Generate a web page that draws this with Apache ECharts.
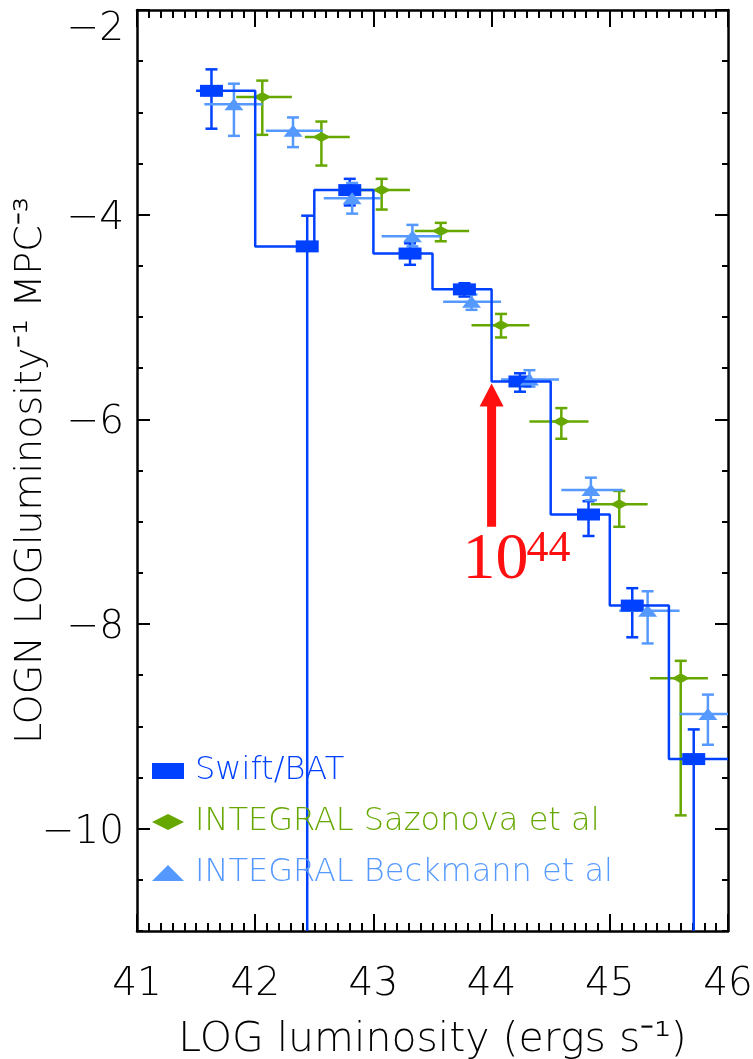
<!DOCTYPE html>
<html>
<head>
<meta charset="utf-8">
<script src="https://cdn.jsdelivr.net/npm/echarts@6/dist/echarts.min.js"></script>
<style>
  html, body { margin: 0; padding: 0; background: #ffffff; }
  #chart { width: 753px; height: 1059px; }
</style>
</head>
<body>
<div id="chart"></div>
<script>
// ---- Luminosity function data (log L in erg/s, log N per log L per Mpc^3) ----

// Bin edges of the Swift/BAT histogram
const binEdges = [41.5, 42.0, 42.5, 43.0, 43.5, 44.0, 44.5, 45.0, 45.5, 46.0];

// Swift/BAT
const swiftX     = [41.63, 42.44, 42.80, 43.31, 43.77, 44.24, 44.82, 45.19, 45.71];
const swiftY     = [-2.79, -4.31, -3.76, -4.38, -4.73, -5.63, -6.93, -7.82, -9.32];
const swiftYHigh = [-2.58, -4.01, -3.65, -4.28, -4.67, -5.55, -6.80, -7.65, -9.03];
const swiftYLow  = [-3.16, -12.0, -3.91, -4.49, -4.80, -5.73, -7.14, -8.13, -12.0];

// INTEGRAL, Sazonova et al
const sazX     = [42.06, 42.56, 43.07, 43.57, 44.08, 44.59, 45.08, 45.60];
const sazXLow  = [41.84, 42.42, 42.83, 43.35, 43.83, 44.32, 44.84, 45.34];
const sazXHigh = [42.31, 42.80, 43.31, 43.81, 44.32, 44.82, 45.32, 45.83];
const sazY     = [-2.85, -3.24, -3.76, -4.16, -5.08, -6.02, -6.83, -8.53];
const sazYHigh = [-2.69, -3.09, -3.65, -4.08, -4.97, -5.89, -6.70, -8.36];
const sazYLow  = [-3.22, -3.52, -3.95, -4.26, -5.20, -6.19, -7.05, -9.87];

// INTEGRAL, Beckmann et al
const beckX     = [41.82, 42.32, 42.82, 43.33, 43.83, 44.32, 44.84, 45.32, 45.83];
const beckXLow  = [41.57, 42.09, 42.58, 43.07, 43.59, 44.08, 44.59, 45.08, 45.59];
const beckXHigh = [42.06, 42.57, 43.06, 43.57, 44.08, 44.57, 45.11, 45.59, 46.08];
const beckY     = [-2.92, -3.18, -3.84, -4.21, -4.85, -5.61, -6.69, -7.87, -8.88];
const beckYHigh = [-2.72, -3.05, -3.69, -4.10, -4.78, -5.52, -6.57, -7.68, -8.69];
const beckYLow  = [-3.23, -3.34, -3.99, -4.31, -4.93, -5.68, -6.79, -8.19, -9.18];

// Axis ranges and labelled ticks
const xRange = [41, 46];
const yRange = [-11, -2];
const yLabelValues = [-10, -8, -6, -4, -2];

// Arrow marking L = 10^44 erg/s
const arrowX = 44.0;
const arrowTipY = -5.65;
const arrowBaseY = -7.05;
const arrowText = '10';
const arrowExp = '44';

// Series names
const NAME_SWIFT = 'Swift/BAT';
const NAME_SAZ = 'INTEGRAL Sazonova et al';
const NAME_BECK = 'INTEGRAL Beckmann et al';

// ---- Styling ----
const FONT = 'DejaVu Sans';
const C_SWIFT = '#0040ff';
const C_SAZ = '#66a800';
const C_BECK = '#5599ff';
const C_RED = '#ff1010';

const chart = echarts.init(document.getElementById('chart'), null, { renderer: 'canvas' });

function errorBars(color, capHalf, withX) {
  return function (params, api) {
    const x = api.value(0), y = api.value(1);
    const top = api.coord([x, api.value(3)]);
    const bot = api.coord([x, api.value(2)]);
    const style = { stroke: color, lineWidth: 2.5, fill: null };
    const children = [
      { type: 'line', shape: { x1: top[0], y1: top[1], x2: bot[0], y2: bot[1] }, style: style },
      { type: 'line', shape: { x1: top[0] - capHalf, y1: top[1], x2: top[0] + capHalf, y2: top[1] }, style: style },
      { type: 'line', shape: { x1: bot[0] - capHalf, y1: bot[1], x2: bot[0] + capHalf, y2: bot[1] }, style: style }
    ];
    if (withX) {
      const l = api.coord([api.value(4), y]);
      const r = api.coord([api.value(5), y]);
      children.push({ type: 'line', shape: { x1: l[0], y1: l[1], x2: r[0], y2: r[1] }, style: style });
    }
    return { type: 'group', children: children };
  };
}

const stepData = binEdges.map((e, i) => [e, swiftY[Math.min(i, swiftY.length - 1)]]);
const swiftErr = swiftX.map((x, i) => [x, swiftY[i], swiftYLow[i], swiftYHigh[i]]);
const sazErr = sazX.map((x, i) => [x, sazY[i], sazYLow[i], sazYHigh[i], sazXLow[i], sazXHigh[i]]);
const beckErr = beckX.map((x, i) => [x, beckY[i], beckYLow[i], beckYHigh[i], beckXLow[i], beckXHigh[i]]);

const axisLineStyle = { color: '#000', width: 2.5 };
const tickLineStyle = { color: '#000', width: 2 };
const labelFont = { fontFamily: FONT, fontSize: 39, color: '#000', fontWeight: 200 };

function xAxisDef(pos, showLabels) {
  return {
    type: 'value', position: pos, min: xRange[0], max: xRange[1], interval: 1,
    axisLine: { show: true, onZero: false, lineStyle: axisLineStyle },
    axisTick: { show: true, inside: true, length: 17, lineStyle: tickLineStyle },
    minorTick: { show: true, splitNumber: 10, length: 8, lineStyle: tickLineStyle },
    splitLine: { show: false }, minorSplitLine: { show: false },
    axisLabel: Object.assign({ show: showLabels, margin: 34 }, labelFont),
    name: showLabels ? 'LOG luminosity (ergs s\u207B\u00B9)' : '',
    nameLocation: 'middle', nameGap: 89, nameMoveOverlap: false,
    nameTextStyle: { fontFamily: FONT, fontSize: 41, color: '#000', fontWeight: 200 }
  };
}

function yAxisMinor(pos, showLabels) {
  return {
    type: 'value', position: pos, min: yRange[0], max: yRange[1], interval: 0.5,
    axisLine: { show: true, onZero: false, lineStyle: axisLineStyle },
    axisTick: { show: true, inside: true, length: 6, lineStyle: tickLineStyle },
    splitLine: { show: false },
    axisLabel: {
      show: showLabels, margin: 13, customValues: yLabelValues,
      formatter: function (v) {
        const t = '\u2212' + Math.abs(v);
        return v === yRange[1] ? '{t|' + t + '}' : '{n|' + t + '}';
      },
      rich: {
        t: Object.assign({ padding: [40, 0, 0, 0] }, labelFont),
        n: Object.assign({ padding: [8, 0, 0, 0] }, labelFont)
      }
    },
    name: showLabels ? 'LOGN LOGluminosity\u207B\u00B9 MPC\u207B\u00B3' : '',
    nameLocation: 'middle', nameGap: 87, nameRotate: 90, nameMoveOverlap: false,
    nameTextStyle: { fontFamily: FONT, fontSize: 38, color: '#000', fontWeight: 200 }
  };
}

function yAxisMajor(pos) {
  return {
    type: 'value', position: pos, min: yRange[0], max: yRange[1], interval: 0.5,
    axisLine: { show: false },
    axisTick: { show: true, inside: true, length: 13, lineStyle: tickLineStyle, customValues: yLabelValues },
    splitLine: { show: false },
    axisLabel: { show: false }
  };
}

const option = {
  animation: false,
  backgroundColor: '#ffffff',
  grid: { left: 137, top: 10, width: 591, height: 921, show: false, containLabel: false, outerBoundsMode: 'none' },
  xAxis: [xAxisDef('bottom', true), xAxisDef('top', false)],
  yAxis: [yAxisMinor('left', true), yAxisMajor('left'), yAxisMinor('right', false), yAxisMajor('right')],
  legend: {
    orient: 'vertical', left: 152, top: 753, padding: 0,
    itemWidth: 32, itemHeight: 16, itemGap: 15,
    selectedMode: false,
    textStyle: { fontFamily: FONT, fontSize: 32, lineHeight: 36, fontWeight: 200, padding: [0, 0, 0, 6] },
    data: [
      { name: NAME_SWIFT, icon: 'rect', textStyle: { color: C_SWIFT } },
      { name: NAME_SAZ, icon: 'diamond', textStyle: { color: C_SAZ } },
      { name: NAME_BECK, icon: 'triangle', textStyle: { color: C_BECK } }
    ]
  },
  series: [
    {
      name: 'step', type: 'line', step: 'end', data: stepData,
      symbol: 'none', clip: true,
      lineStyle: { color: C_SWIFT, width: 2.5 }
    },
    {
      type: 'custom', name: 'swiftErr', data: swiftErr, clip: true,
      encode: { x: 0, y: 1 }, renderItem: errorBars(C_SWIFT, 6, false)
    },
    {
      name: NAME_SWIFT, type: 'scatter', symbol: 'rect', symbolSize: [23, 12],
      itemStyle: { color: C_SWIFT, opacity: 1 },
      data: swiftX.map((x, i) => [x, swiftY[i]])
    },
    {
      type: 'custom', name: 'sazErr', data: sazErr, clip: true,
      encode: { x: 0, y: 1 }, renderItem: errorBars(C_SAZ, 6, true)
    },
    {
      name: NAME_SAZ, type: 'scatter', symbol: 'diamond', symbolSize: [18, 10],
      itemStyle: { color: C_SAZ, opacity: 1 },
      data: sazX.map((x, i) => [x, sazY[i]])
    },
    {
      type: 'custom', name: 'beckErr', data: beckErr, clip: true,
      encode: { x: 0, y: 1 }, renderItem: errorBars(C_BECK, 6, true)
    },
    {
      name: NAME_BECK, type: 'scatter', symbol: 'triangle', symbolSize: [19, 12],
      itemStyle: { color: C_BECK, opacity: 1 },
      data: beckX.map((x, i) => [x, beckY[i]])
    },
    {
      type: 'custom', name: 'arrow', clip: false, silent: true,
      data: [[arrowX, arrowTipY, arrowBaseY]],
      encode: { x: 0, y: 1 },
      renderItem: function (params, api) {
        const tip = api.coord([api.value(0), api.value(1)]);
        const base = api.coord([api.value(0), api.value(2)]);
        const headW = 12, headH = 23, shaftW = 4.5;
        const cx = tip[0];
        return {
          type: 'group',
          children: [
            {
              type: 'polygon',
              shape: {
                points: [
                  [cx, tip[1]],
                  [cx + headW, tip[1] + headH],
                  [cx + shaftW, tip[1] + headH],
                  [cx + shaftW, base[1]],
                  [cx - shaftW, base[1]],
                  [cx - shaftW, tip[1] + headH],
                  [cx - headW, tip[1] + headH]
                ]
              },
              style: { fill: C_RED }
            },
            {
              type: 'text', x: cx + 37, y: base[1] + 34,
              style: {
                text: arrowText, fill: C_RED, align: 'right', verticalAlign: 'middle',
                font: '66px "Liberation Serif", "Times New Roman", serif'
              }
            },
            {
              type: 'text', x: cx + 35, y: base[1] + 23,
              style: {
                text: arrowExp, fill: C_RED, align: 'left', verticalAlign: 'middle',
                font: '44px "Liberation Serif", "Times New Roman", serif'
              }
            }
          ]
        };
      }
    }
  ]
};

chart.setOption(option);
</script>
</body>
</html>
